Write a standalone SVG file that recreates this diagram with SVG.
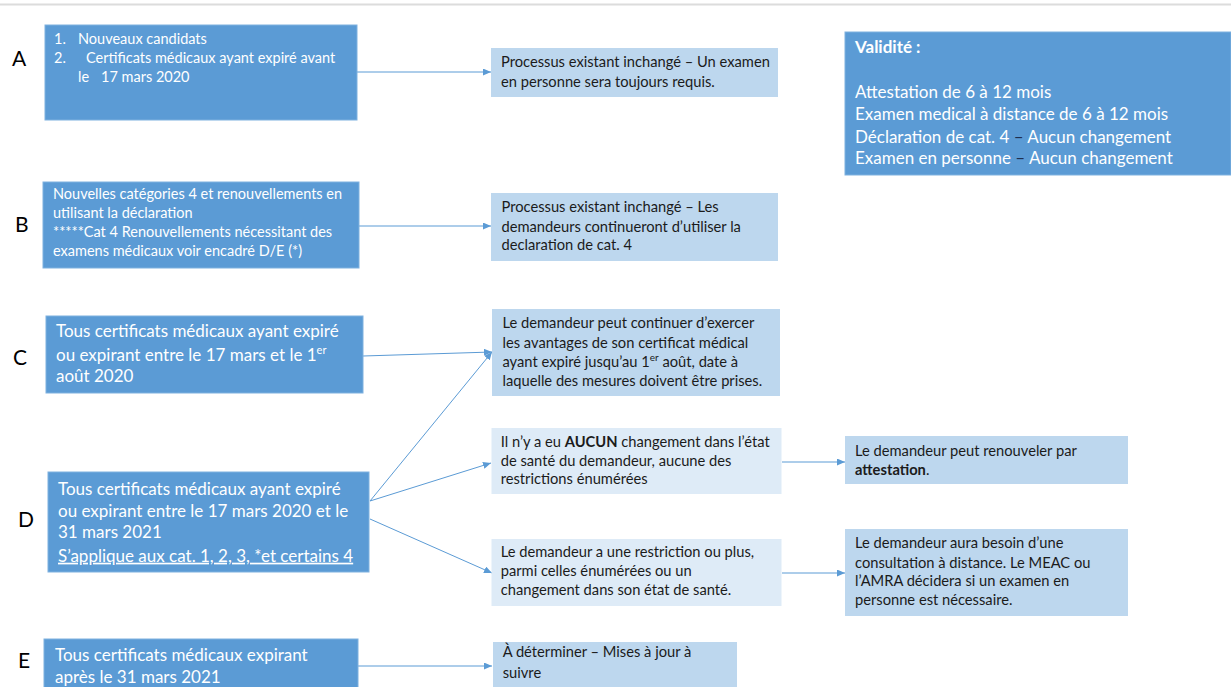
<svg xmlns="http://www.w3.org/2000/svg" width="1231" height="687" viewBox="0 0 1231 687">
<style>
.lbl{font-family:Lato,"Liberation Sans",sans-serif;font-size:21px;fill:#000}
.dk{fill:#5B9BD5;stroke:#7FB1DF;stroke-width:1}
.lt{fill:#BDD7EE}
.vl{fill:#DEEBF7}
.tw{font-family:Lato,"Liberation Sans",sans-serif;fill:#fff}
.tb{font-family:Lato,"Liberation Sans",sans-serif;fill:#1b1b1b}
.f13{font-size:14.5px}
.f135{font-size:14.7px}
.f15{font-size:17px}
.conn line{stroke:#5B9BD5;stroke-width:1;fill:none;marker-end:url(#ah)}
</style>
<defs>
<marker id="ah" viewBox="0 0 8 8" refX="8" refY="4" markerWidth="8" markerHeight="7" markerUnits="userSpaceOnUse" orient="auto" preserveAspectRatio="none">
<path d="M0,0 L8,4 L0,8 z" fill="#5B9BD5"/>
</marker>
</defs>
<rect x="0" y="3.5" width="1231" height="2" fill="#DCDCDC"/>

<g class="conn" id="connectors">
<line x1="357" y1="72" x2="491" y2="72"/>
<line x1="359" y1="226" x2="491" y2="226"/>
<line x1="363" y1="356" x2="492" y2="352"/>
<line x1="370" y1="501" x2="492" y2="352"/>
<line x1="370" y1="501" x2="491" y2="463"/>
<line x1="370" y1="519" x2="492" y2="573"/>
<line x1="782" y1="462" x2="845" y2="462"/>
<line x1="782" y1="573" x2="845" y2="573"/>
<line x1="358" y1="666" x2="492" y2="666"/>
</g>

<g id="labels">
<text class="lbl" x="12" y="66">A</text>
<text class="lbl" x="15" y="232">B</text>
<text class="lbl" x="13" y="365">C</text>
<text class="lbl" x="18" y="527">D</text>
<text class="lbl" x="18" y="668">E</text>
</g>

<g id="nodeA">
<rect class="dk" x="45" y="25" width="312" height="95"/>
<text class="tw f13"><tspan x="54" y="43.5">1.</tspan><tspan x="78" y="43.5">Nouveaux candidats</tspan><tspan x="54" y="63">2.</tspan><tspan x="86" y="63">Certificats médicaux ayant expiré avant</tspan><tspan x="78" y="82">le</tspan><tspan x="101" y="82">17 mars 2020</tspan></text>
</g>

<g id="resA">
<rect class="lt" x="491" y="48" width="287" height="49"/>
<text class="tb f135"><tspan x="501" y="67.3">Processus existant inchangé – Un examen</tspan><tspan x="501" y="86.7">en personne sera toujours requis.</tspan></text>
</g>

<g id="validite">
<rect class="dk" x="845" y="32" width="386" height="143"/>
<text class="tw f15"><tspan x="855" y="53" font-weight="bold">Validité :</tspan><tspan x="855" y="98.3">Attestation de 6 à 12 mois</tspan><tspan x="855" y="120">Examen medical à distance de 6 à 12 mois</tspan><tspan x="855" y="142.7">Déclaration de cat. 4 <tspan fill="#1F2F50">–</tspan> Aucun changement</tspan><tspan x="855" y="164">Examen en personne <tspan fill="#1F2F50">–</tspan> Aucun changement</tspan></text>
</g>

<g id="nodeB">
<rect class="dk" x="43" y="182" width="316" height="86"/>
<text class="tw f13"><tspan x="53" y="199.3">Nouvelles catégories 4 et renouvellements en</tspan><tspan x="53" y="218.3">utilisant la déclaration</tspan><tspan x="53" y="236.7">*****Cat 4 Renouvellements nécessitant des</tspan><tspan x="53" y="256">examens médicaux voir encadré D/E (*)</tspan></text>
</g>

<g id="resB">
<rect class="lt" x="491" y="193" width="287" height="68"/>
<text class="tb f135"><tspan x="501.5" y="212.3">Processus existant inchangé – Les</tspan><tspan x="501.5" y="231.7">demandeurs continueront d’utiliser la</tspan><tspan x="501.5" y="250">declaration de cat. 4</tspan></text>
</g>

<g id="nodeC">
<rect class="dk" x="46" y="316" width="317" height="77"/>
<text class="tw f15"><tspan x="56" y="337.3">Tous certificats médicaux ayant expiré</tspan><tspan x="56" y="361">ou expirant entre le 17 mars et le 1<tspan dy="-7" font-size="11">er</tspan></tspan><tspan x="56" y="382.3">août 2020</tspan></text>
</g>

<g id="resC">
<rect class="lt" x="492" y="309" width="288" height="87"/>
<text class="tb f135"><tspan x="502.5" y="328.3">Le demandeur peut continuer d’exercer</tspan><tspan x="502.5" y="347.7">les avantages de son certificat médical</tspan><tspan x="502.5" y="366.7">ayant expiré jusqu’au 1<tspan dy="-5.5" font-size="10">er</tspan><tspan dy="5.5"> août, date à</tspan></tspan><tspan x="502.5" y="386">laquelle des mesures doivent être prises.</tspan></text>
</g>

<g id="nodeD">
<rect class="dk" x="48" y="472" width="321" height="100"/>
<text class="tw f15"><tspan x="58" y="495">Tous certificats médicaux ayant expiré</tspan><tspan x="58" y="516.7">ou expirant entre le 17 mars 2020 et le</tspan><tspan x="58" y="538.3">31 mars 2021</tspan><tspan x="58" y="561.7" text-decoration="underline">S’applique aux cat. 1, 2, 3, *et certains 4</tspan></text>
</g>

<g id="resD1">
<rect class="vl" x="491.5" y="428" width="290" height="66"/>
<text class="tb f135"><tspan x="500.7" y="447.3">Il n’y a eu <tspan font-weight="bold">AUCUN</tspan> changement dans l’état</tspan><tspan x="500.7" y="466">de santé du demandeur, aucune des</tspan><tspan x="500.7" y="484">restrictions énumérées</tspan></text>
</g>

<g id="resD2">
<rect class="vl" x="491.5" y="539" width="290" height="67"/>
<text class="tb f135"><tspan x="500.7" y="557.3">Le demandeur a une restriction ou plus,</tspan><tspan x="500.7" y="576">parmi celles énumérées ou un</tspan><tspan x="500.7" y="595">changement dans son état de santé.</tspan></text>
</g>

<g id="final1">
<rect class="lt" x="845" y="436" width="283" height="48"/>
<text class="tb f135"><tspan x="855" y="456">Le demandeur peut renouveler par</tspan><tspan x="855" y="475" font-weight="bold">attestation<tspan font-weight="normal">.</tspan></tspan></text>
</g>

<g id="final2">
<rect class="lt" x="845" y="529" width="283" height="87"/>
<text class="tb f135"><tspan x="855" y="548.3">Le demandeur aura besoin d’une</tspan><tspan x="855" y="567.7">consultation à distance. Le MEAC ou</tspan><tspan x="855" y="586">l’AMRA décidera si un examen en</tspan><tspan x="855" y="605">personne est nécessaire.</tspan></text>
</g>

<g id="nodeE">
<rect class="dk" x="44" y="639" width="314" height="60"/>
<text class="tw f15"><tspan x="55" y="660.7">Tous certificats médicaux expirant</tspan><tspan x="55" y="682.7">après le 31 mars 2021</tspan></text>
</g>

<g id="resE">
<rect class="lt" x="493" y="642" width="244" height="60"/>
<text class="tb f135"><tspan x="502.7" y="657.3">À déterminer – Mises à jour à</tspan><tspan x="502.7" y="678.3">suivre</tspan></text>
</g>
</svg>
